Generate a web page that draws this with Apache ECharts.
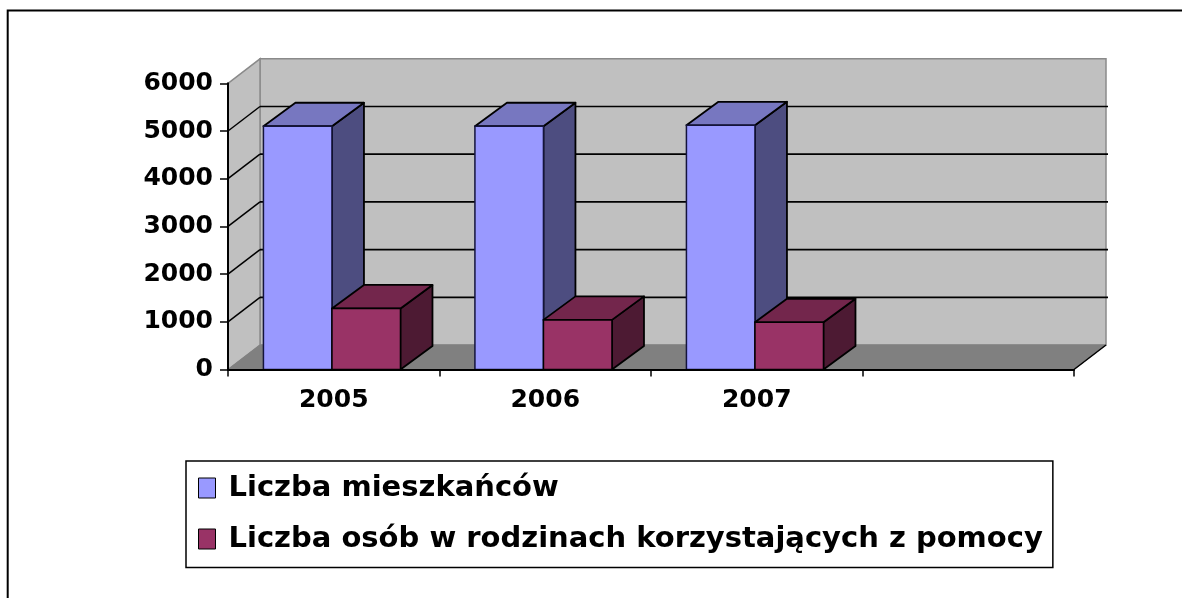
<!DOCTYPE html>
<html lang="pl">
<head>
    <meta charset="utf-8">
    <title>Liczba mieszkańców</title>
    <script src="https://cdn.jsdelivr.net/npm/echarts@6/dist/echarts.min.js"></script>
    <style>
        html, body { margin: 0; padding: 0; background: #fff; }
        #main { width: 1182px; height: 598px; }
    </style>
</head>
<body>
<div id="main"></div>
<script type="text/javascript">
    // dane z wykresu
    var years = ['2005', '2006', '2007', ''];
    var mieszkancy = [5100, 5100, 5120];
    var korzystajacy = [1280, 1040, 990];
    var yTicks = [0, 1000, 2000, 3000, 4000, 5000, 6000];
    var seriesNames = ['Liczba mieszkańców', 'Liczba osób w rodzinach korzystających z pomocy'];

    var FONT = 'DejaVu Sans';
    var WALL_DX = 32, WALL_DY = -24.5;   // glebokosc scian
    var BAR_DX = 32, BAR_DY = -23.5;     // glebokosc slupkow

    var myChart = echarts.init(document.getElementById('main'));

    // sciany, podloga i linie siatki (efekt 3D)
    function renderWalls(params, api) {
        var cs = params.coordSys;
        var xl = cs.x, xr = cs.x + cs.width;
        var y0 = api.coord([0, yTicks[0]])[1];
        var yTop = api.coord([0, yTicks[yTicks.length - 1]])[1];
        var dx = WALL_DX, dy = WALL_DY;
        var children = [];
        children.push({
            type: 'rect',
            shape: { x: xl + dx, y: yTop + dy, width: xr - xl, height: y0 - yTop },
            style: { fill: '#C0C0C0', stroke: '#8a8a8a', lineWidth: 1.5 }
        });
        children.push({
            type: 'polygon',
            shape: { points: [[xl, y0], [xl, yTop], [xl + dx, yTop + dy], [xl + dx, y0 + dy]] },
            style: { fill: '#C0C0C0', stroke: '#8a8a8a', lineWidth: 1.5 }
        });
        children.push({
            type: 'polygon',
            shape: { points: [[xl, y0], [xr, y0], [xr + dx, y0 + dy], [xl + dx, y0 + dy]] },
            style: { fill: '#808080', stroke: '#808080', lineWidth: 1 }
        });
        children.push({
            type: 'line',
            shape: { x1: xr, y1: y0, x2: xr + dx, y2: y0 + dy },
            style: { stroke: '#000', lineWidth: 1.5 }
        });
        for (var k = 1; k < yTicks.length - 1; k++) {
            var y = api.coord([0, yTicks[k]])[1];
            children.push({
                type: 'line',
                shape: { x1: xl + dx, y1: y + dy, x2: xr + dx + 2, y2: y + dy },
                style: { stroke: '#000', lineWidth: 1.7 }
            });
            children.push({
                type: 'line',
                shape: { x1: xl, y1: y, x2: xl + dx, y2: y + dy },
                style: { stroke: '#000', lineWidth: 1.5 }
            });
        }
        return { type: 'group', children: children };
    }

    // slupek 3D: side = -1 (lewy) lub 1 (prawy)
    function barRenderer(side, colors) {
        return function (params, api) {
            var i = api.value(0), v = api.value(1);
            var base = api.coord([i, 0]);
            var top = api.coord([i, v]);
            var catW = api.size([1, 0])[0];
            var w = catW * 0.324;
            var x0 = side < 0 ? base[0] - w - 1.8 : base[0] - 1.8;
            var x1 = x0 + w;
            var yb = base[1], yt = top[1];
            var dx = BAR_DX, dy = BAR_DY;
            return {
                type: 'group',
                children: [{
                    type: 'polygon',
                    shape: { points: [[x1, yb], [x1, yt], [x1 + dx, yt + dy], [x1 + dx, yb + dy]] },
                    style: { fill: colors.side, stroke: '#000', lineWidth: 1.8, lineJoin: 'round' }
                }, {
                    type: 'polygon',
                    shape: { points: [[x0, yt], [x1, yt], [x1 + dx, yt + dy], [x0 + dx, yt + dy]] },
                    style: { fill: colors.top, stroke: '#000', lineWidth: 1.8, lineJoin: 'round' }
                }, {
                    type: 'rect',
                    shape: { x: x0, y: yt, width: w, height: yb - yt },
                    style: { fill: colors.front, stroke: colors.edge, lineWidth: 1.5 }
                }]
            };
        };
    }

    var blueColors = { front: '#9999FF', top: '#7777C0', side: '#4D4D80', edge: '#14143c' };
    var maroonColors = { front: '#993366', top: '#73264C', side: '#4D1A33', edge: '#000' };

    myChart.setOption({
        animation: false,
        backgroundColor: '#fff',
        graphic: [{
            type: 'rect',
            shape: { x: 7.7, y: 10.5, width: 1300, height: 800 },
            style: { fill: 'none', stroke: '#000', lineWidth: 2 }
        }],
        grid: { left: 228, right: 108, top: 83.3, bottom: 228.5 },
        legend: {
            orient: 'vertical',
            left: 186,
            top: 461,
            padding: [12.5, 10, 14, 12],
            itemGap: 22,
            itemWidth: 17,
            itemHeight: 20,
            icon: 'rect',
            borderColor: '#000',
            borderWidth: 1.5,
            selectedMode: false,
            textStyle: {
                fontFamily: FONT, fontWeight: 'bold', fontSize: 29, color: '#000',
                lineHeight: 29, padding: [0, 0, 0, 8]
            },
            data: [
                { name: seriesNames[0], itemStyle: { color: '#9999FF', borderColor: '#000', borderWidth: 1 } },
                { name: seriesNames[1], itemStyle: { color: '#993366', borderColor: '#000', borderWidth: 1 } }
            ]
        },
        xAxis: {
            type: 'category',
            data: years,
            boundaryGap: true,
            z: 5,
            axisLine: { show: true, lineStyle: { color: '#000', width: 2 } },
            axisTick: { show: true, length: 7, lineStyle: { color: '#000', width: 1.5 } },
            axisLabel: { fontFamily: FONT, fontWeight: 'bold', fontSize: 25, color: '#000', margin: 18 },
            splitLine: { show: false }
        },
        yAxis: {
            type: 'value',
            min: 0,
            max: 6000,
            interval: 1000,
            z: 5,
            axisLine: { show: true, lineStyle: { color: '#000', width: 2 } },
            axisTick: { show: true, length: 8, lineStyle: { color: '#000', width: 1.5 } },
            axisLabel: {
                fontFamily: FONT, fontWeight: 'bold', fontSize: 25, color: '#000', margin: 15,
                formatter: function (v) { return String(v); }
            },
            splitLine: { show: false }
        },
        series: [{
            name: 'walls',
            type: 'custom',
            z: 1,
            silent: true,
            renderItem: renderWalls,
            encode: { x: 0, y: 1 },
            data: [[0, 0]]
        }, {
            name: seriesNames[0],
            type: 'custom',
            z: 2,
            itemStyle: { color: '#9999FF' },
            renderItem: barRenderer(-1, blueColors),
            encode: { x: 0, y: 1 },
            data: mieszkancy.map(function (v, i) { return [i, v]; })
        }, {
            name: seriesNames[1],
            type: 'custom',
            z: 3,
            itemStyle: { color: '#993366' },
            renderItem: barRenderer(1, maroonColors),
            encode: { x: 0, y: 1 },
            data: korzystajacy.map(function (v, i) { return [i, v]; })
        }]
    });
</script>
</body>
</html>
